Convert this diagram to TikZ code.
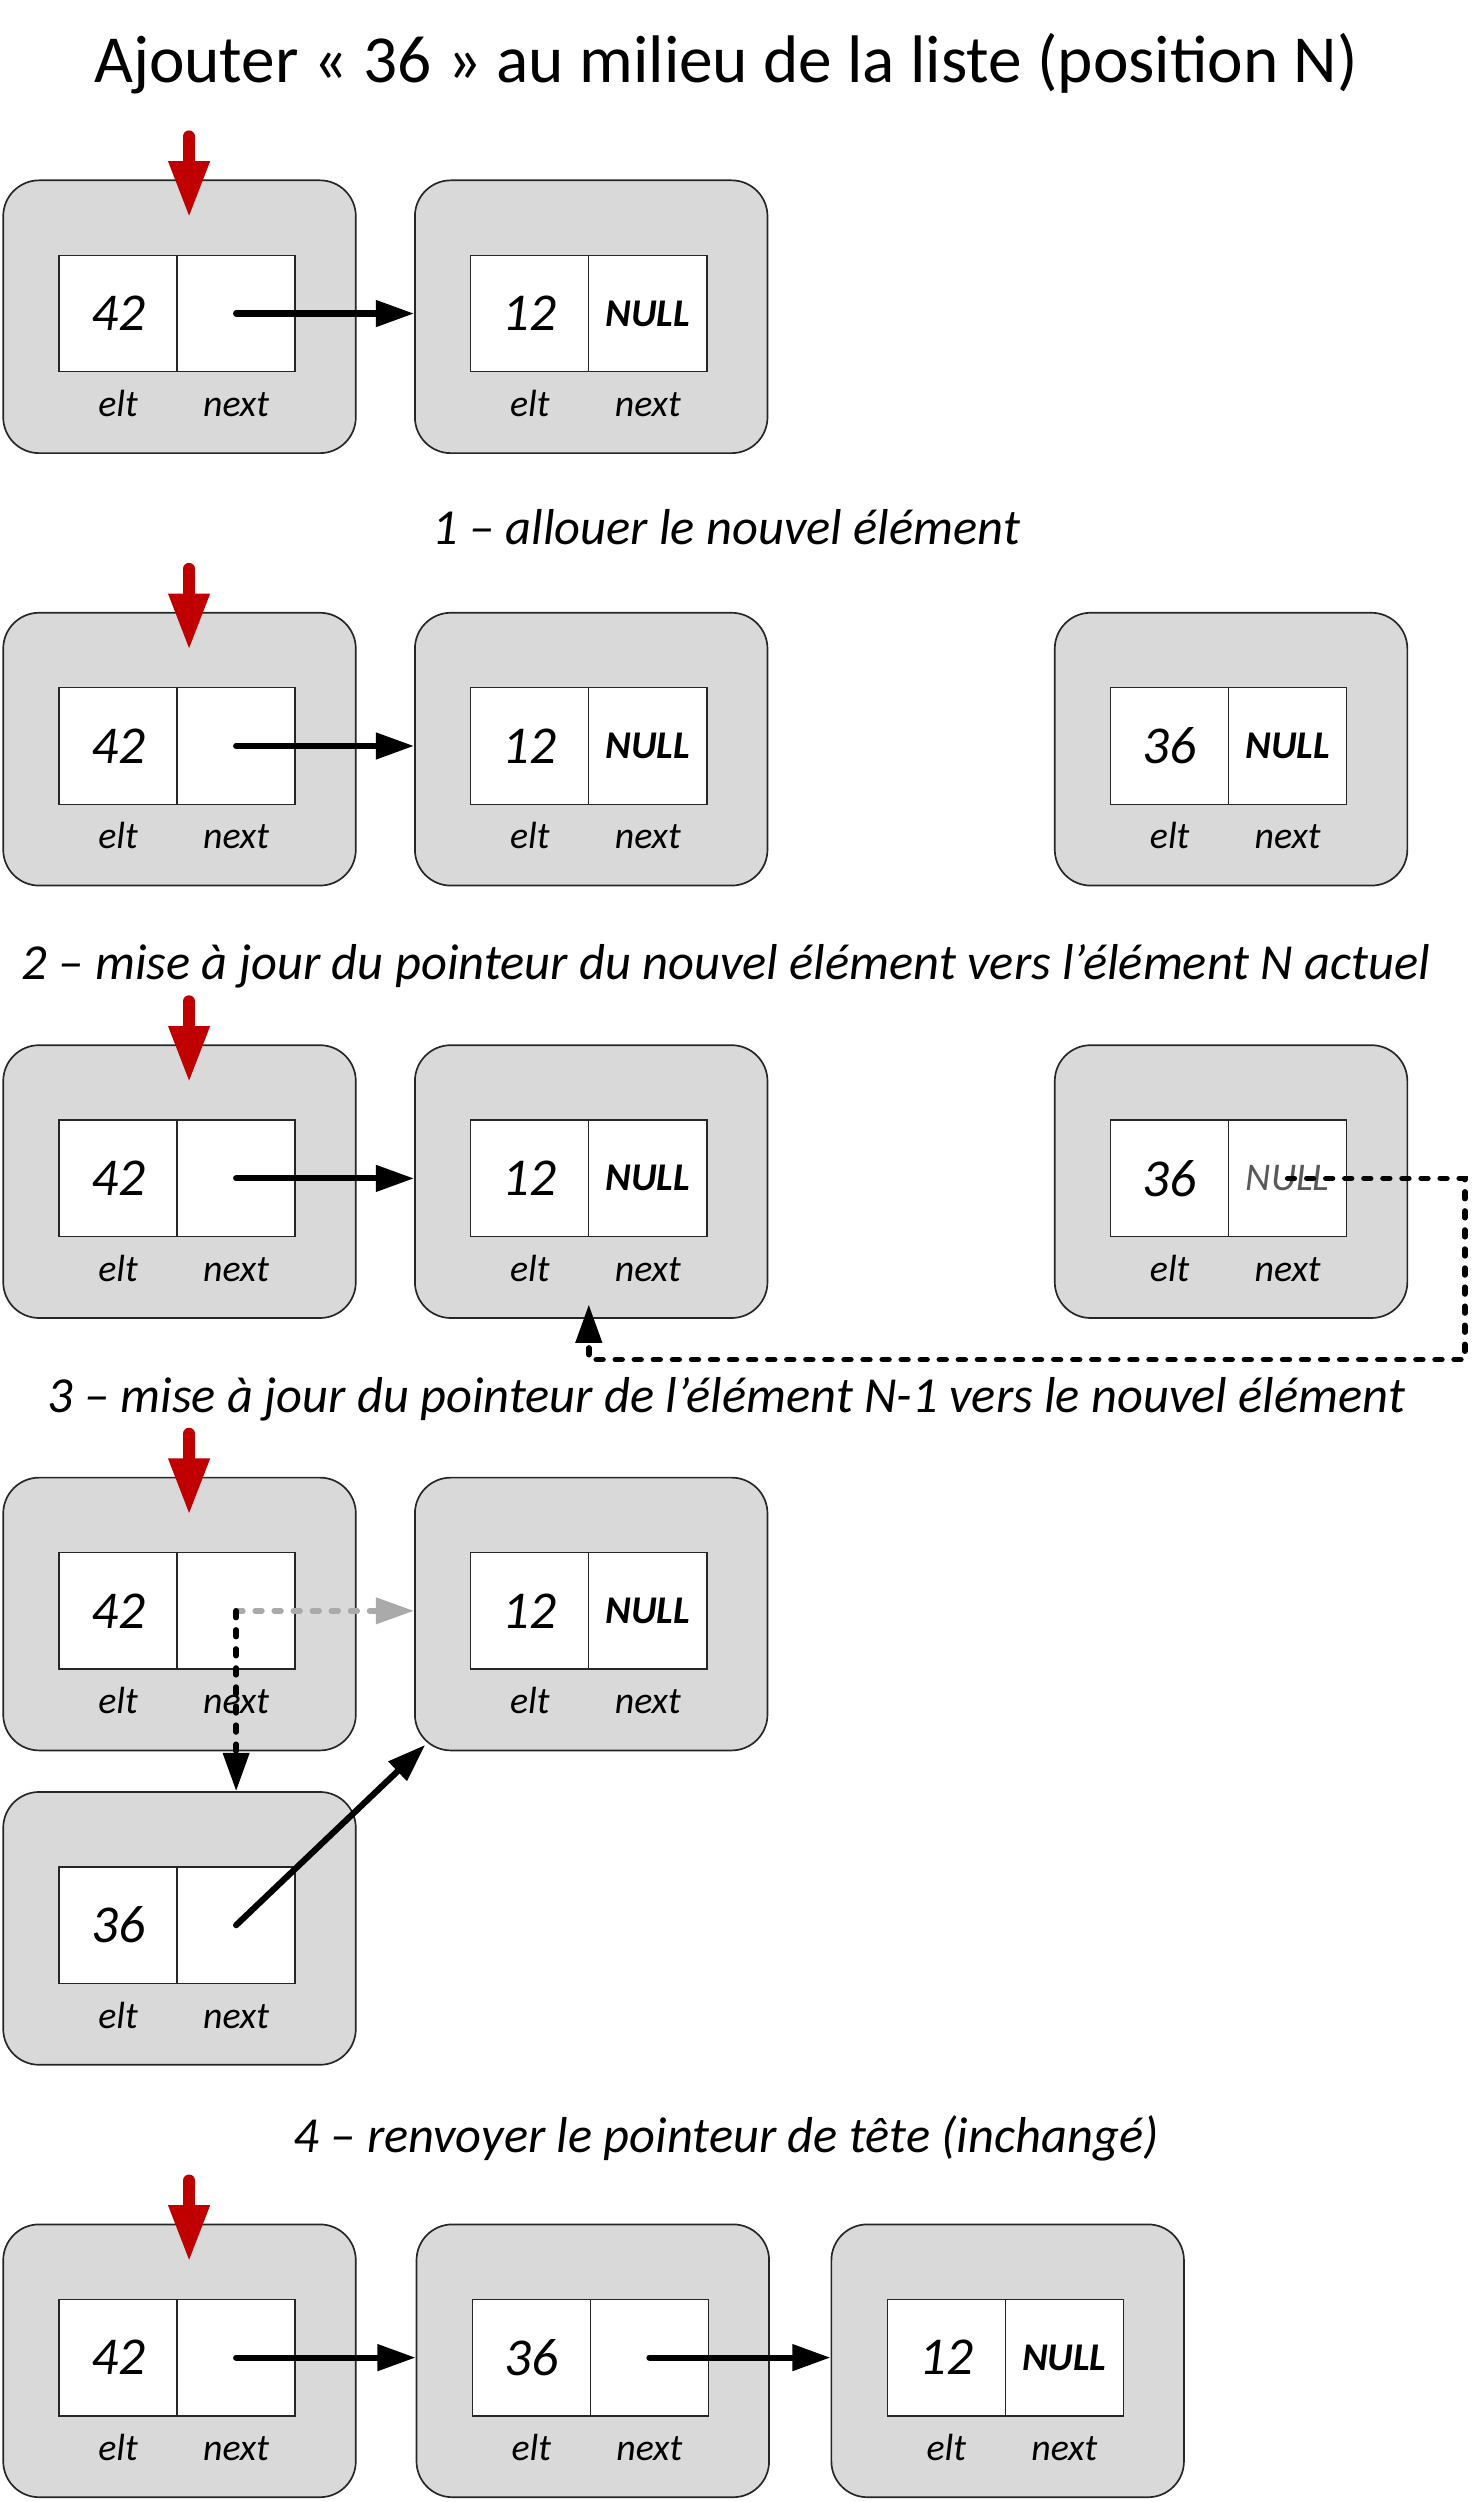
\documentclass[tikz,border=0pt]{standalone}
\usepackage{fontspec}
\setmainfont{Carlito}
\usetikzlibrary{positioning,calc,arrows.meta}
\definecolor{fond}{HTML}{D9D9D9}
\definecolor{rouge}{HTML}{C00000}
\definecolor{grisclair}{HTML}{AAAAAA}
\definecolor{grisnull}{HTML}{595959}
\tikzset{boite/.style = {draw=black!85, fill=fond, line width=0.6pt, rounded corners=0.45cm,
                         minimum width=4.42cm, minimum height=3.42cm, inner sep=0},
         case/.style = {draw=black!85, fill=white, line width=0.5pt, minimum width=1.48cm,
                        minimum height=1.46cm, inner sep=0, outer sep=0,
                        font=\fontsize{19}{22}\selectfont\itshape},
         etiquette/.style = {anchor=base, inner sep=0, font=\fontsize{13.5}{16}\selectfont\itshape},
         etape/.style = {anchor=base, inner sep=0, font=\fontsize{18}{21}\selectfont\itshape},
         lien/.style = {line width=2.2pt, line cap=round, -{Triangle[length=0.48cm, width=0.32cm]}},
         pointille/.style = {lien, line width=2pt, dash pattern=on 2.4pt off 4.4pt},
         ancien/.style = {pointille, grisclair},
         tete/.style = {rouge, line width=0.15cm, line cap=round, -{Triangle[length=0.71cm, width=0.48cm]}}}
\newcommand{\nul}{\fontsize{14}{16}\selectfont\bfseries NULL}
\newcommand{\nulgris}{\fontsize{14}{16}\selectfont\color{grisnull}NULL}
% un maillon : nom, x, y (coin haut gauche), valeur, suivant
\newcommand{\maillon}[5]{%
  \node[boite] (#1) at (#2+110.5,#3+85.5) {};
  \node[case] (#1-e) at ([shift={(-38.5,-2)}]#1.center) {#4};
  \node[case, right=0pt of #1-e] (#1-n) {#5};
  \node[etiquette] at ([shift={(0,28)}]#1-e.south) {elt};
  \node[etiquette] at ([shift={(0,28)}]#1-n.south) {next};
}
\begin{document}
\begin{tikzpicture}[x=0.02cm, y=-0.02cm]
\useasboundingbox (0,0) rectangle (922,1568);
\node[anchor=base, inner sep=0, font=\fontsize{24}{28}\selectfont] (titre) at (455,52)
  {Ajouter « 36 » au milieu de la liste (position N)};

% ligne 1
\maillon{a1}{2}{113}{42}{}
\maillon{b1}{260}{113}{12}{\nul}
\draw[lien] (a1-n.center) -- (a1-n.center -| b1.west);
\draw[tete] ([shift={(6,-27)}]a1.north) -- ([shift={(6,24)}]a1.north);

\node[etape] (e1) at (455,341) {1 – allouer le nouvel élément};

% ligne 2
\maillon{a2}{2}{384}{42}{}
\maillon{b2}{260}{384}{12}{\nul}
\maillon{c2}{661}{384}{36}{\nul}
\draw[lien] (a2-n.center) -- (a2-n.center -| b2.west);
\draw[tete] ([shift={(6,-27)}]a2.north) -- ([shift={(6,24)}]a2.north);

\node[etape] (e2) at (455,614) {2 – mise à jour du pointeur du nouvel élément vers l’élément N actuel};

% ligne 3
\maillon{a3}{2}{655}{42}{}
\maillon{b3}{260}{655}{12}{\nul}
\maillon{c3}{661}{655}{36}{\nulgris}
\draw[lien] (a3-n.center) -- (a3-n.center -| b3.west);
\draw[tete] ([shift={(6,-27)}]a3.north) -- ([shift={(6,24)}]a3.north);
\coordinate (coin) at (918,852);
\coordinate (b3-bas) at ($(b3-e.east |- b3.south)+(0,-9)$);
\draw[pointille] (c3-n.center) -| (coin) -| (b3-bas);

\node[etape] (e3) at (455,885) {3 – mise à jour du pointeur de l’élément N-1 vers le nouvel élément};

% ligne 4
\maillon{a4}{2}{926}{42}{}
\maillon{b4}{260}{926}{12}{\nul}
\maillon{d4}{2}{1123}{36}{}
\draw[ancien] (a4-n.center) -- (a4-n.center -| b4.west);
\draw[pointille] (a4-n.center) -- (a4-n.center |- d4.north);
\coordinate (b4-coin) at ($(b4.south west)+(7,-4)$);
\draw[lien] (d4-n.center) -- (b4-coin);
\draw[tete] ([shift={(6,-27)}]a4.north) -- ([shift={(6,24)}]a4.north);

\node[etape] (e4) at (455,1349) {4 – renvoyer le pointeur de tête (inchangé)};

% ligne 5
\maillon{a5}{2}{1394}{42}{}
\maillon{b5}{261}{1394}{36}{}
\maillon{c5}{521}{1394}{12}{\nul}
\draw[lien] (a5-n.center) -- (a5-n.center -| b5.west);
\draw[lien] (b5-n.center) -- (b5-n.center -| c5.west);
\draw[tete] ([shift={(6,-27)}]a5.north) -- ([shift={(6,24)}]a5.north);
\end{tikzpicture}
\end{document}
